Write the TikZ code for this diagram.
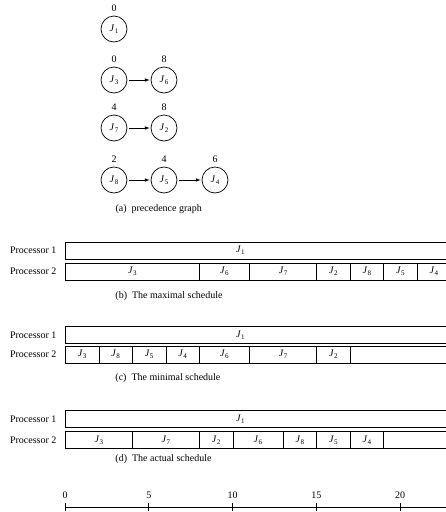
\documentclass[tikz,border=0pt]{standalone}
\usepackage{fontspec}
\setmainfont{Liberation Serif}
\usetikzlibrary{positioning,arrows}
\tikzset{job/.style={draw,circle,inner sep=0pt,minimum size=26pt,line width=0.7pt},
  slot/.style={draw,anchor=west,inner sep=0pt,minimum height=17pt,line width=0.7pt},
  proc/.style={anchor=east},
  caption/.style={anchor=west},
  prec/.style={-latex,line width=0.7pt,shorten <=2pt,shorten >=1pt}}
\newcommand{\tu}{16.75pt}
\newcommand{\J}[1]{\textit{J}\kern0.2pt\raisebox{-0.4ex}{\scriptsize #1}}

\begin{document}
\begin{tikzpicture}[x=1pt,y=-1pt]
\useasboundingbox (0,0) rectangle (446,512);

% precedence graph
\node[job,label={[label distance=1pt]above:0}] (j1) at (114,29) {\J{1}};
\node[job,label={[label distance=1pt]above:0}] (j3) at (114,80) {\J{3}};
\node[job,label={[label distance=1pt]above:8}] (j6) at (164,80) {\J{6}};
\node[job,label={[label distance=1pt]above:4}] (j7) at (114,128) {\J{7}};
\node[job,label={[label distance=1pt]above:8}] (j2) at (164,128) {\J{2}};
\node[job,label={[label distance=1pt]above:2}] (j8) at (114,180) {\J{8}};
\node[job,label={[label distance=1pt]above:4}] (j5) at (164,180) {\J{5}};
\node[job,label={[label distance=1pt]above:6}] (j4) at (215,180) {\J{4}};
\draw[prec] (j3) -- (j6);
\draw[prec] (j7) -- (j2);
\draw[prec] (j8) -- (j5);
\draw[prec] (j5) -- (j4);
\node[caption] (capa) at (112,209) {(a)\ \ precedence graph};

\begin{scope}[xshift=65pt,x=\tu]
% maximal schedule
\node[proc] (pb1) at (-0.3,250.5) {Processor 1};
\node[proc] (pb2) at (-0.3,271.5) {Processor 2};
\node[slot,minimum width={24*\tu},label={[xshift=-26pt]center:\J{1}}] (b1) at (0,250.5) {};
\node[slot,minimum width={8*\tu}] (b3) at (0,271.5) {\J{3}};
\node[slot,minimum width={3*\tu}] (b6) at (8,271.5) {\J{6}};
\node[slot,minimum width={4*\tu}] (b7) at (11,271.5) {\J{7}};
\node[slot,minimum width={2*\tu}] (b2) at (15,271.5) {\J{2}};
\node[slot,minimum width={2*\tu}] (b8) at (17,271.5) {\J{8}};
\node[slot,minimum width={2*\tu}] (b5) at (19,271.5) {\J{5}};
\node[slot,minimum width={2*\tu}] (b4) at (21,271.5) {\J{4}};
\node[caption] (capb) at (2.8,296) {(b)\ \ The maximal schedule};

% minimal schedule
\node[proc] (pc1) at (-0.3,335) {Processor 1};
\node[proc] (pc2) at (-0.3,354.5) {Processor 2};
\node[slot,minimum width={24*\tu},label={[xshift=-26pt]center:\J{1}}] (c1) at (0,335) {};
\node[slot,minimum width={24*\tu}] (crow) at (0,354.5) {};
\node[slot,minimum width={2*\tu}] (c3) at (0,354.5) {\J{3}};
\node[slot,minimum width={2*\tu}] (c8) at (2,354.5) {\J{8}};
\node[slot,minimum width={2*\tu}] (c5) at (4,354.5) {\J{5}};
\node[slot,minimum width={2*\tu}] (c4) at (6,354.5) {\J{4}};
\node[slot,minimum width={3*\tu}] (c6) at (8,354.5) {\J{6}};
\node[slot,minimum width={4*\tu}] (c7) at (11,354.5) {\J{7}};
\node[slot,minimum width={2*\tu}] (c2) at (15,354.5) {\J{2}};
\node[caption] (capc) at (2.8,378) {(c)\ \ The minimal schedule};

% actual schedule
\node[proc] (pd1) at (-0.3,419) {Processor 1};
\node[proc] (pd2) at (-0.3,440) {Processor 2};
\node[slot,minimum width={24*\tu},label={[xshift=-26pt]center:\J{1}}] (d1) at (0,419) {};
\node[slot,minimum width={24*\tu}] (drow) at (0,440) {};
\node[slot,minimum width={4*\tu}] (d3) at (0,440) {\J{3}};
\node[slot,minimum width={4*\tu}] (d7) at (4,440) {\J{7}};
\node[slot,minimum width={2*\tu}] (d2) at (8,440) {\J{2}};
\node[slot,minimum width={3*\tu}] (d6) at (10,440) {\J{6}};
\node[slot,minimum width={2*\tu}] (d8) at (13,440) {\J{8}};
\node[slot,minimum width={2*\tu}] (d5) at (15,440) {\J{5}};
\node[slot,minimum width={2*\tu}] (d4) at (17,440) {\J{4}};
\node[caption] (capd) at (2.8,459) {(d)\ \ The actual schedule};

% time axis
\coordinate (t0) at (0,507);
\coordinate (tend) at (24,507);
\draw[line width=0.7pt] (t0) -- (tend);
\draw[line width=0.7pt] (0,503) -- (0,511);
\draw[line width=0.7pt] (5,503) -- (5,511);
\draw[line width=0.7pt] (10,503) -- (10,511);
\draw[line width=0.7pt] (15,503) -- (15,511);
\draw[line width=0.7pt] (20,503) -- (20,511);
\node (l0) at (0,495) {0};
\node (l5) at (5,495) {5};
\node (l10) at (10,495) {10};
\node (l15) at (15,495) {15};
\node (l20) at (20,495) {20};
\end{scope}
\end{tikzpicture}
\end{document}
